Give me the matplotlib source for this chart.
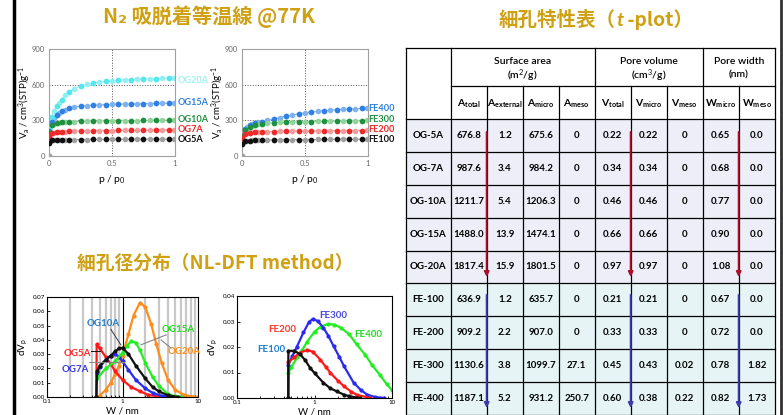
import matplotlib
matplotlib.use("Agg")
import matplotlib.pyplot as plt
from matplotlib.patches import Rectangle
from matplotlib.transforms import blended_transform_factory

plt.rcParams['font.family'] = ['Lato', 'DejaVu Sans']
plt.rcParams['mathtext.fontset'] = 'custom'
plt.rcParams['mathtext.rm'] = 'Lato'
plt.rcParams['mathtext.it'] = 'Lato:italic'
plt.rcParams['mathtext.bf'] = 'Lato:bold'

# --- N2 isotherms (relative pressure grid shared by all samples) ---
P_ADS = [0, 0.003, 0.01, 0.02, 0.04, 0.06, 0.08, 0.1, 0.13, 0.16, 0.2, 0.25, 0.3, 0.35,
         0.4, 0.45, 0.5, 0.55, 0.6, 0.65, 0.7, 0.75, 0.8, 0.85, 0.9, 0.95, 0.99]
OG20A = [0, 230, 290, 330, 380, 420, 450, 475, 510, 535, 565, 588, 603, 614,
         621, 627, 632, 636, 639, 642, 645, 647, 649, 651, 653, 655, 657]
OG15A = [0, 210, 255, 285, 320, 345, 362, 375, 390, 400, 410, 418, 423, 427,
         430, 432, 434, 436, 437, 438, 439, 440, 441, 442, 443, 444, 445]
OG10A = [0, 200, 240, 258, 270, 276, 280, 283, 286, 288, 290, 292, 293, 294,
         295, 296, 296, 297, 297, 298, 298, 299, 299, 300, 300, 301, 302]
OG7A = [0, 160, 185, 192, 197, 200, 202, 204, 206, 207, 208, 210, 211, 212,
        213, 214, 214, 215, 215, 216, 216, 217, 218, 218, 219, 220, 221]
OG5A = [0, 110, 128, 132, 134, 135, 136, 136, 137, 137, 138, 138, 138, 139,
        139, 139, 140, 140, 140, 140, 140, 141, 141, 141, 141, 142, 142]
FE400 = [0, 170, 205, 225, 245, 258, 268, 276, 283, 290, 300, 312, 323, 335,
         345, 355, 363, 370, 376, 381, 385, 389, 392, 395, 397, 400, 402]
FE300 = [0, 165, 200, 220, 238, 248, 255, 260, 266, 270, 275, 279, 282, 284,
         286, 288, 289, 290, 291, 292, 293, 294, 295, 296, 297, 298, 300]
FE200 = [0, 150, 175, 185, 192, 196, 198, 200, 202, 203, 205, 206, 207, 208,
         208, 209, 210, 210, 211, 211, 212, 212, 213, 213, 214, 214, 215]
FE100 = [0, 100, 120, 125, 128, 130, 131, 132, 133, 134, 135, 136, 136, 137,
         137, 138, 138, 138, 139, 139, 139, 140, 140, 140, 140, 141, 141]

# --- pore size distributions (NL-DFT) ---
W_OG5A = [0.45, 0.455, 0.5, 0.6, 0.7, 0.8, 1.0, 1.3, 1.7, 2.2, 3.0, 4.0]
DV_OG5A = [0, 0.037, 0.034, 0.028, 0.023, 0.018, 0.012, 0.007, 0.004, 0.0015, 0.0003, 0]
W_OG7A = [0.45, 0.455, 0.5, 0.6, 0.7, 0.8, 0.9, 1.0, 1.2, 1.5, 2.0, 2.5, 3.2, 4.5]
DV_OG7A = [0, 0.017, 0.021, 0.026, 0.029, 0.030, 0.028, 0.025, 0.019, 0.012, 0.006, 0.003, 0.001, 0]
W_OG10A = [0.45, 0.46, 0.5, 0.6, 0.7, 0.8, 0.9, 1.0, 1.2, 1.5, 2.0, 2.5, 3.0, 4.0, 5.5]
DV_OG10A = [0, 0.018, 0.022, 0.026, 0.029, 0.032, 0.034, 0.0345, 0.030, 0.022, 0.013, 0.007,
            0.004, 0.0012, 0]
W_OG15A = [0.45, 0.46, 0.6, 0.8, 1.0, 1.15, 1.3, 1.5, 1.7, 2.0, 2.5, 3.0, 4.0, 5.0, 6.0]
DV_OG15A = [0, 0.013, 0.020, 0.025, 0.031, 0.036, 0.039, 0.038, 0.033, 0.024, 0.014, 0.008,
            0.002, 0.0005, 0]
W_OG20A = [0.45, 0.5, 0.6, 0.7, 0.8, 0.9, 1.0, 1.2, 1.4, 1.7, 2.0, 2.4, 2.8, 3.3, 4.0, 5.0,
           6.5, 8.5, 10]
DV_OG20A = [0, 0.001, 0.005, 0.010, 0.016, 0.022, 0.029, 0.044, 0.057, 0.066, 0.063, 0.051,
            0.037, 0.024, 0.012, 0.005, 0.0015, 0.0003, 0]
W_FE100 = [0.458, 0.46, 0.55, 0.65, 0.75, 0.88, 1.0, 1.3, 1.6, 1.94, 2.4, 2.8, 3.9]
DV_FE100 = [0, 0.0185, 0.0185, 0.0172, 0.015, 0.0118, 0.0098, 0.006, 0.0038, 0.0026, 0.0013,
            0.0007, 0]
W_FE200 = [0.458, 0.46, 0.55, 0.65, 0.8, 0.95, 1.19, 1.4, 1.6, 2.0, 2.4, 3.0, 3.5, 5.2]
DV_FE200 = [0, 0.014, 0.016, 0.0178, 0.0188, 0.0182, 0.015, 0.0122, 0.0099, 0.0068, 0.0046,
            0.0024, 0.0013, 0]
W_FE300 = [0.458, 0.46, 0.52, 0.59, 0.72, 0.85, 0.95, 1.1, 1.3, 1.5, 1.76, 2.1, 2.4, 3.2, 4.0,
           4.8, 6.0, 8.0]
DV_FE300 = [0, 0.013, 0.0165, 0.020, 0.0257, 0.0298, 0.031, 0.0302, 0.0276, 0.0245, 0.0204,
            0.016, 0.0125, 0.006, 0.003, 0.0013, 0.0004, 0]
W_FE400 = [0.458, 0.461, 0.5, 0.6, 0.7, 0.8, 1.0, 1.2, 1.5, 1.8, 2.2, 2.8, 3.5, 4.5, 5.5, 7.0,
           8.5, 10]
DV_FE400 = [0, 0.010, 0.012, 0.016, 0.019, 0.022, 0.026, 0.028, 0.029, 0.0288, 0.0275, 0.025,
            0.021, 0.017, 0.013, 0.009, 0.0055, 0.003]

# --- t-plot table ---
SAMPLES = ["OG-5A", "OG-7A", "OG-10A", "OG-15A", "OG-20A", "FE-100", "FE-200", "FE-300", "FE-400"]
A_TOTAL = ["676.8", "987.6", "1211.7", "1488.0", "1817.4", "636.9", "909.2", "1130.6", "1187.1"]
A_EXTERNAL = ["1.2", "3.4", "5.4", "13.9", "15.9", "1.2", "2.2", "3.8", "5.2"]
A_MICRO = ["675.6", "984.2", "1206.3", "1474.1", "1801.5", "635.7", "907.0", "1099.7", "931.2"]
A_MESO = ["0", "0", "0", "0", "0", "0", "0", "27.1", "250.7"]
V_TOTAL = ["0.22", "0.34", "0.46", "0.66", "0.97", "0.21", "0.33", "0.45", "0.60"]
V_MICRO = ["0.22", "0.34", "0.46", "0.66", "0.97", "0.21", "0.33", "0.43", "0.38"]
V_MESO = ["0", "0", "0", "0", "0", "0", "0", "0.02", "0.22"]
W_MICRO = ["0.65", "0.68", "0.77", "0.90", "1.08", "0.67", "0.72", "0.78", "0.82"]
W_MESO = ["0.0", "0.0", "0.0", "0.0", "0.0", "0.0", "0.0", "1.82", "1.73"]
SUBHEADS = [("A", "total"), ("A", "external"), ("A", "micro"), ("A", "meso"),
            ("V", "total"), ("V", "micro"), ("V", "meso"), ("W", "micro"), ("W", "meso")]
GROUPS = [("Surface area", r"(m$^2$/g)"), ("Pore volume", r"(cm$^3$/g)"), ("Pore width", "(nm)")]

GOLD = "#CFA012"
CJK = ["Noto Sans CJK JP", "DejaVu Sans"]
FW, FH = 783, 415

fig = plt.figure(figsize=(FW / 100, FH / 100), dpi=100)
bg = fig.add_axes([0, 0, 1, 1])
bg.set_xlim(0, FW)
bg.set_ylim(FH, 0)
bg.axis("off")


def box(x0, y0, x1, y1):
    return [x0 / FW, 1 - y1 / FH, (x1 - x0) / FW, (y1 - y0) / FH]


def title(cx, cy, parts, size):
    # parts drawn side by side on one baseline, centred on cx
    r = fig.canvas.get_renderer()
    texts = [bg.text(0, cy, s, va="baseline", ha="left", color=GOLD, fontsize=size,
                     fontweight="bold", **kw) for s, kw in parts]
    widths = [t.get_window_extent(r).width for t in texts]
    x = cx - sum(widths) / 2
    for t, w in zip(texts, widths):
        t.set_x(x)
        x += w


# slide borders
bg.plot([14, 14], [0, FH], color="black", lw=2.5)
bg.plot([781, 781], [0, FH], color="#333333", lw=2)

title(209, 23, [("N₂ 吸脱着等温線 @77K", dict(family=CJK))], 14.5)
title(215, 269, [("細孔径分布（NL-DFT method）", dict(family=CJK))], 13.5)
title(596, 26, [("細孔特性表（", dict(family=CJK)), ("t", dict(style="italic")),
                (" -plot）", dict(family=CJK))], 14)


def isotherm(rect, series, label_x):
    ax = fig.add_axes(box(*rect))
    for v, light, dark, name, ly in series:
        ax.plot(P_ADS, v, "-o", color=light, ms=3, lw=0.8, mec=light, zorder=2)
        ax.plot(P_ADS[1::2], v[1::2], "o", color=dark, ms=3, zorder=3)
    ax.set_xlim(0, 1)
    ax.set_ylim(0, 900)
    ax.set_xticks([0, 0.5, 1])
    ax.set_xticklabels(["0", "0.5", "1"])
    ax.set_yticks([0, 300, 600, 900])
    ax.grid(ls=":", color="#555555", lw=0.7)
    ax.set_axisbelow(True)
    ax.tick_params(length=0, labelsize=5.5, labelcolor="#666666", pad=3)
    for s in ax.spines.values():
        s.set_color("#A0A0A0")
        s.set_linewidth(0.8)
    ax.set_xlabel(r"p / p$_0$", fontsize=7.5, labelpad=4)
    ax.set_ylabel(r"V$_\mathrm{a}$ / cm$^3$(STP)g$^{-1}$", fontsize=7)
    ax.yaxis.set_label_coords(-0.13, 0.5)
    tr = blended_transform_factory(ax.transAxes, ax.transData)
    for v, light, dark, name, ly in series:
        ax.text(label_x, ly, name, transform=tr, ha="left", va="center", fontsize=6.6,
                fontweight="bold", color=dark if name != "OG20A" else "#9EF2F4")
    return ax


isotherm((49, 49, 175, 156), [
    (OG20A, "#8FF0F4", "#55E6EE", "OG20A", 639),
    (OG15A, "#7FB2F0", "#2F80E0", "OG15A", 446),
    (OG10A, "#8FD49A", "#1E9040", "OG10A", 311),
    (OG7A, "#F59A9A", "#EE2A2A", "OG7A", 223),
    (OG5A, "#A0A0A0", "#111111", "OG5A", 139),
], 1.02)
isotherm((242, 49, 368, 156), [
    (FE400, "#7FB2F0", "#2F80E0", "FE400", 398),
    (FE300, "#8FD49A", "#1E9040", "FE300", 303),
    (FE200, "#F59A9A", "#EE2A2A", "FE200", 219),
    (FE100, "#A0A0A0", "#111111", "FE100", 135),
], 1.005)


def psd(rect, series, ymax, labels, grid):
    ax = fig.add_axes(box(*rect))
    ax.set_xscale("log")
    if grid:
        ax.grid(which="minor", axis="x", color="#C8C8C8", lw=1.6)
        ax.axvline(1, color="black", lw=0.8)
        ax.set_axisbelow(True)
    for w, dv, c in series:
        ax.plot(w, dv, "-o", color=c, lw=1.6, ms=2)
    ax.set_xlim(0.1, 10)
    ax.set_ylim(0, ymax)
    ax.set_xticks([0.1, 1, 10])
    ax.set_xticklabels(["0.1", "1", "10"])
    n = int(round(ymax / 0.01))
    ax.set_yticks([i * 0.01 for i in range(n + 1)])
    ax.set_yticklabels([f"{i * 0.01:.2f}" for i in range(n + 1)])
    ax.tick_params(which="both", direction="in", labelsize=4.5, length=2, width=0.6, pad=1.5)
    ax.tick_params(which="minor", length=1.2)
    for s in ax.spines.values():
        s.set_linewidth(0.8)
    ax.set_ylabel(r"dV$_\mathrm{p}$", fontsize=7, labelpad=2)
    ax.set_xlabel("W / nm", fontsize=7, labelpad=2)
    for name, x, y, c, lead in labels:
        if lead:
            ax.plot([lead[0], lead[2]], [lead[1], lead[3]], color=lead[4], lw=0.7)
        ax.text(x, y, name, ha="center", va="center", fontsize=7, fontweight="bold", color=c)


psd((47, 297, 198, 397), [
    (W_OG20A, DV_OG20A, "#FF8C1A"),
    (W_OG5A, DV_OG5A, "#FF1A1A"),
    (W_OG7A, DV_OG7A, "#2A2AF0"),
    (W_OG15A, DV_OG15A, "#22EE22"),
    (W_OG10A, DV_OG10A, "#111111"),
], 0.07, [
    ("OG10A", 0.55, 0.0516, "#1F7FD0", (0.70, 0.0474, 0.95, 0.0365, "#333333")),
    ("OG15A", 5.5, 0.047, "#22DD22", (3.8, 0.0435, 1.75, 0.0365, "#777777")),
    ("OG20A", 6.6, 0.0319, "#FF8C1A", (4.4, 0.0342, 3.24, 0.040, "#777777")),
    ("OG5A", 0.25, 0.0307, "#FF2A2A", (0.378, 0.0323, 0.51, 0.0323, "#111111")),
    ("OG7A", 0.24, 0.019, "#3A3AE0", (0.36, 0.0242, 1.05, 0.0242, "#888888")),
], True)

psd((237, 296, 392, 398), [
    (W_FE400, DV_FE400, "#22EE22"),
    (W_FE300, DV_FE300, "#2A2AF0"),
    (W_FE200, DV_FE200, "#FF1A1A"),
    (W_FE100, DV_FE100, "#111111"),
], 0.04, [
    ("FE300", 1.75, 0.0322, "#4A4AE0", None),
    ("FE200", 0.38, 0.027, "#FF3A2A", None),
    ("FE400", 5.0, 0.025, "#22DD22", None),
    ("FE100", 0.28, 0.0191, "#1F7FD0", None),
], False)

# --- table ---
xs = [406] + [450.7 + 36 * i for i in range(10)]
top, h1, h2, rh = 48.3, 86, 119.3, 32.8
ys = [h2 + rh * i for i in range(len(SAMPLES) + 1)]
cols = [A_TOTAL, A_EXTERNAL, A_MICRO, A_MESO, V_TOTAL, V_MICRO, V_MESO, W_MICRO, W_MESO]

bg.add_patch(Rectangle((xs[0], top), xs[-1] - xs[0], h2 - top, fc="white", ec="none"))
for i, name in enumerate(SAMPLES):
    fc = "#EEEEF8" if name.startswith("OG") else "#E6F4F5"
    bg.add_patch(Rectangle((xs[0], ys[i]), xs[-1] - xs[0], rh, fc=fc, ec="none"))
    cy = ys[i] + rh / 2
    bg.text((xs[0] + xs[1]) / 2, cy, name, ha="center", va="center", fontsize=7,
            fontweight="bold")
    for j, col in enumerate(cols):
        bg.text((xs[j + 1] + xs[j + 2]) / 2, cy, col[i], ha="center", va="center",
                fontsize=7, fontweight="bold")

lk = dict(color="black", lw=0.9)
for y in [top, h2] + ys[1:]:
    bg.plot([xs[0], xs[-1]], [y, y], **lk)
bg.plot([xs[1], xs[-1]], [h1, h1], **lk)
for j, x in enumerate(xs):
    if j in (0, 1, 5, 8, 10):
        bg.plot([x, x], [top, ys[-1]], **lk)
    else:
        bg.plot([x, x], [h1, ys[-1]], **lk)

group_edges = [(1, 5), (5, 8), (8, 10)]
for (a, b), (l1, l2) in zip(group_edges, GROUPS):
    cx = (xs[a] + xs[b]) / 2
    bg.text(cx, 62, l1, ha="center", va="center", fontsize=7.5, fontweight="semibold")
    bg.text(cx, 75.5, l2, ha="center", va="center", fontsize=7.5, fontweight="semibold")
for j, (m, sub) in enumerate(SUBHEADS):
    bg.text((xs[j + 1] + xs[j + 2]) / 2, 104, rf"$\mathbf{{{m}}}_{{\mathbf{{{sub}}}}}$",
            ha="center", va="center", fontsize=7.5)

for x in (xs[2], xs[6], xs[9]):
    bg.annotate("", xy=(x, 277), xytext=(x, 132),
                arrowprops=dict(arrowstyle="-|>", color="#A8102A", lw=1.4, mutation_scale=7,
                                shrinkA=0, shrinkB=0))
    bg.annotate("", xy=(x, 408), xytext=(x, 295),
                arrowprops=dict(arrowstyle="-|>", color="#3C3CA8", lw=1.4, mutation_scale=7,
                                shrinkA=0, shrinkB=0))

fig.savefig("out.png", dpi=100)
